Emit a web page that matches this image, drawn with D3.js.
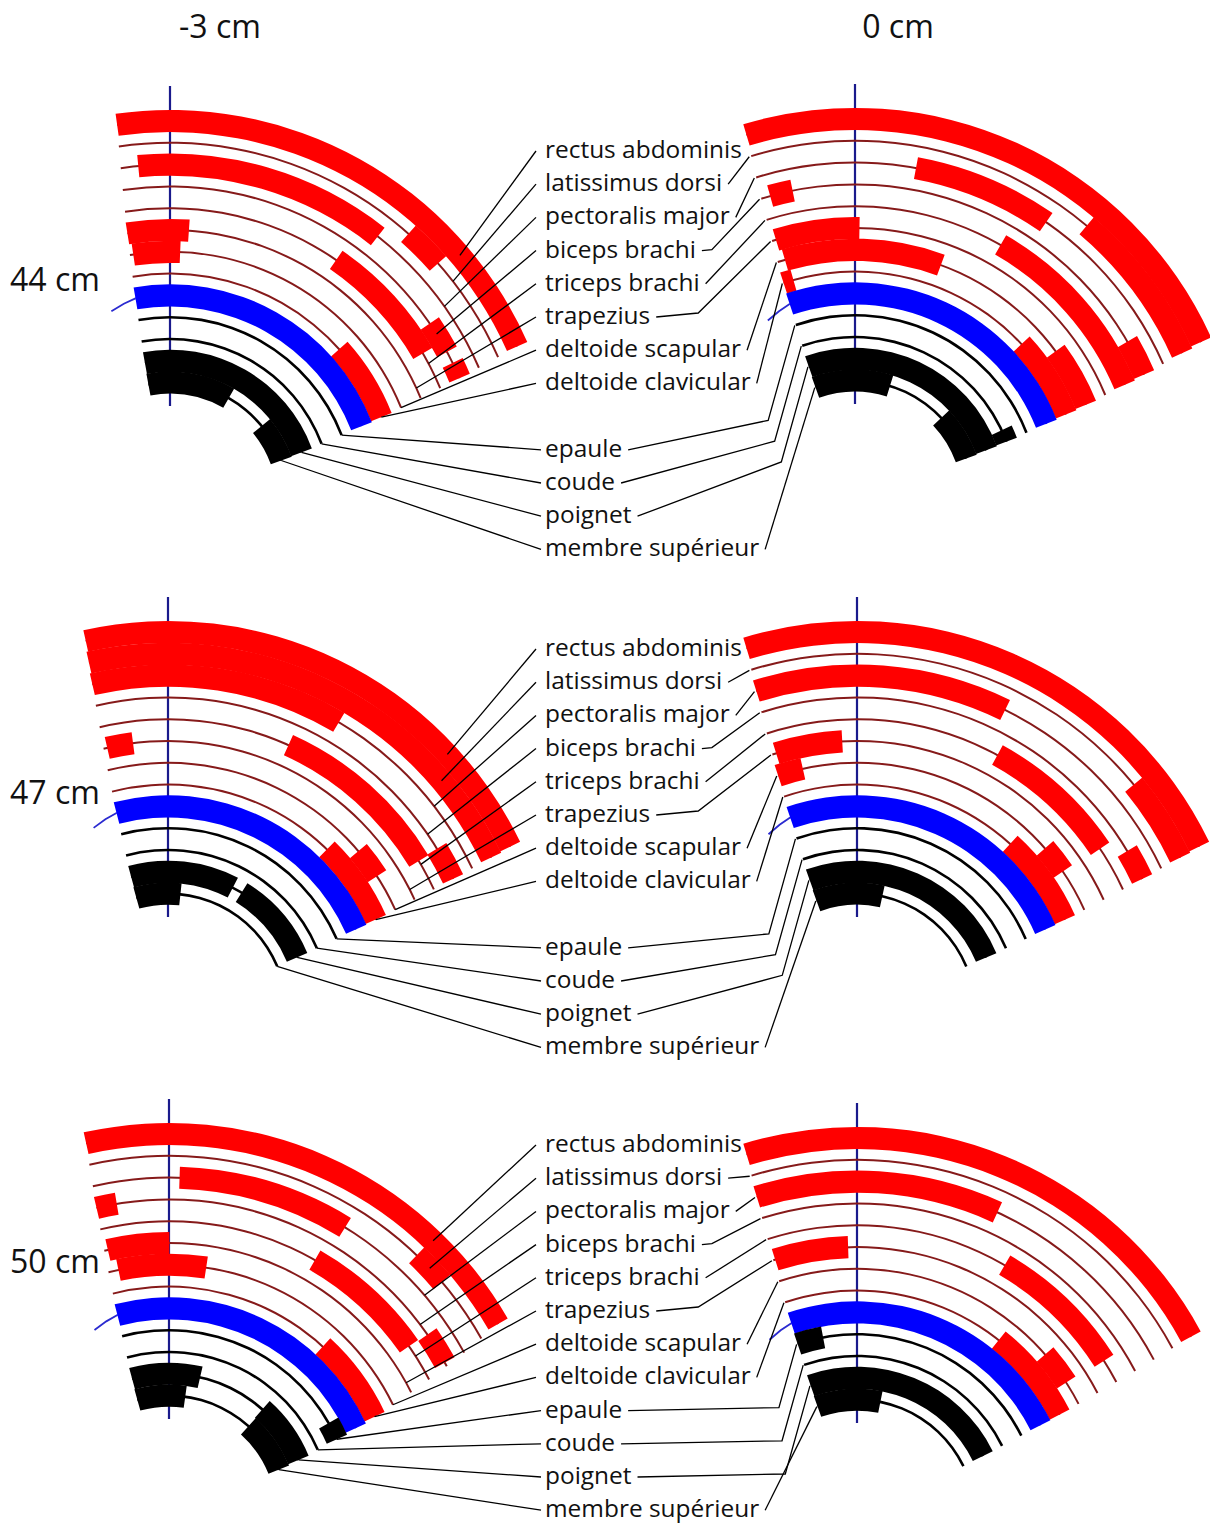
<!DOCTYPE html>
<html><head><meta charset="utf-8">
<script src="https://cdn.jsdelivr.net/npm/d3@7/dist/d3.min.js"></script>
<style>html,body{margin:0;padding:0;background:#fff}svg{display:block}</style>
</head><body>
<svg id="chart" width="1210" height="1524"></svg>
<script>
// ---------------- data ----------------
const columnLabels = ["-3 cm", "0 cm"];
const rowLabels = ["44 cm", "47 cm", "50 cm"];
const muscles = ["rectus abdominis","latissimus dorsi","pectoralis major","biceps brachi","triceps brachi","trapezius","deltoide scapular","deltoide clavicular"];
const joints = ["epaule","coude","poignet","membre supérieur"];
// rings from outside to inside: 8 muscles, upper limb (blue), 4 joint rings
const ringKinds = ["muscle","muscle","muscle","muscle","muscle","muscle","muscle","muscle","limb","joint","joint","joint","joint"];

// active periods on each ring, as fraction of the ring sweep (0 = start, 1 = end)
const act_m3_44 = [
  [[0,1]], [[0.67,0.76]], [[0.04,0.62]], [[0.85,0.93],[0.96,1]], [[0.57,0.9]],
  [[0,0.17]], [[0.01,0.15]], [[0.74,1]], [[0,1]], [], [], [[0,1]], [[0,0.5],[0.76,1]]
];
const act_0_44 = [
  [[0,1]], [[0.69,1]], [[0.33,0.62]], [[0.02,0.07],[0.92,1]], [[0.56,1]],
  [[0.01,0.22]], [[0.02,0.445],[0.835,1]], [[0,0.03],[0.756,1]], [[0,1]], [], [[0.95,1]], [[0,1]], [[0,0.41],[0.74,1]]
];
const act_m3_47 = [
  [[0,1]], [[0,1]], [[0,0.56]], [[0.92,1]], [[0.48,0.92]],
  [[0.01,0.08]], [[0.8,0.89]], [[0.73,1]], [[0,1]], [], [], [[0,0.52],[0.57,1]], [[0,0.26]]
];
const act_0_47 = [
  [[0,1]], [[0.83,1]], [[0,0.53]], [[0.93,1]], [[0.56,0.89]],
  [[0.01,0.18]], [[0,0.07],[0.8,0.88]], [[0.72,1]], [[0,1]], [], [], [[0,1]], [[0,0.37]]
];
const act_m3_50 = [
  [[0,1]], [[0.77,0.85]], [[0.2,0.6]], [[0,0.05],[0.91,0.99]], [[0.57,0.9]],
  [[0.01,0.18]], [[0.03,0.29]], [[0.72,1]], [[0,1]], [[0.93,1]], [], [[0,0.34],[0.69,1]], [[0,0.28],[0.69,1]]
];
const act_0_50 = [
  [[0,1]], [], [[0,0.53]], [], [[0.6,0.94]],
  [[0.005,0.2]], [[0.83,0.93]], [[0.7,1]], [[0,1]], [[0,0.1]], [], [[0,1]], [[0,0.37]]
];

// ---------------- layout ----------------
const FONT = "'Open Sans','Noto Sans','DejaVu Sans',sans-serif";
const R0 = 380, STEP = 21.8, NR = ringKinds.length;
const panels = [
  {col:0,row:0,cx:170,topY:121,sO:-8,  sI:-10.5,eO:66,  eI:70,  act:act_m3_44},
  {col:1,row:0,cx:855,topY:119,sO:-16.6,sI:-19.5,eO:65.6,eI:70,  act:act_0_44},
  {col:0,row:1,cx:168,topY:632,sO:-12.5,sI:-15.5,eO:64.2,eI:67.3,act:act_m3_47},
  {col:1,row:1,cx:857,topY:632,sO:-16.9,sI:-20,  eO:64.2,eI:67.4,act:act_0_47},
  {col:0,row:2,cx:169,topY:1134,sO:-12.6,sI:-15.5,eO:60,eI:68,  act:act_m3_50},
  {col:1,row:2,cx:857,topY:1138,sO:-16.9,sI:-19.5,eO:61.5,eI:64,act:act_0_50}
];
const rScale = d3.scaleLinear().domain([0, NR-1]).range([R0, R0 - STEP*(NR-1)]);
const rad = d => d*Math.PI/180;
function angleScale(p, i){
  const t = i/(NR-1);
  const s = p.sO + (p.sI-p.sO)*t, e = p.eO + (p.eI-p.eO)*t;
  return d3.scaleLinear().domain([0,1]).range([rad(s), rad(e)]);
}
function ringPoint(p, i, f, dr){
  const a = angleScale(p,i)(f), r = rScale(i) + (dr||0), cy = p.topY + R0;
  return [p.cx + r*Math.sin(a), cy - r*Math.cos(a)];
}
const barColor = {muscle:"#ff0000", limb:"#0000ff", joint:"#000000"};
const lineColor = {muscle:"#861a1a", limb:"#0000ff", joint:"#000000"};
const lineHalf = {muscle:1.0, limb:1.0, joint:1.3};
const BAR_HALF = 11.1;

const svg = d3.select("#chart");
const arc = d3.arc();

panels.forEach(p => {
  const cy = p.topY + R0;
  const g = svg.append("g").attr("transform", `translate(${p.cx},${cy})`);
  g.append("line").attr("x1",0).attr("x2",0).attr("y1",-R0-35).attr("y2",-R0+285)
    .attr("stroke","#1a1a8c").attr("stroke-width",2.2);
  // thin ring lines
  ringKinds.forEach((k,i) => {
    const r = rScale(i), a = angleScale(p,i);
    g.append("path").attr("d", arc({innerRadius:r-lineHalf[k], outerRadius:r+lineHalf[k], startAngle:a(0), endAngle:a(1)}))
      .attr("fill", lineColor[k]);
  });
  // blue tail
  {
    const i = 8, r = rScale(i), a = angleScale(p,i);
    const pts = [[r*Math.sin(a(0)), -r*Math.cos(a(0))],
                 [(r-3)*Math.sin(a(0)-rad(3.5)), -(r-3)*Math.cos(a(0)-rad(3.5))],
                 [(r-7)*Math.sin(a(0)-rad(7.5)), -(r-7)*Math.cos(a(0)-rad(7.5))]];
    g.append("path").attr("d", d3.line()(pts)).attr("fill","none").attr("stroke","#2a2ad0").attr("stroke-width",1.8);
  }
  // active bars
  p.act.forEach((segs,i) => {
    const r = rScale(i), a = angleScale(p,i), k = ringKinds[i];
    segs.forEach(s => {
      g.append("path").attr("d", arc({innerRadius:r-BAR_HALF, outerRadius:r+BAR_HALF, startAngle:a(s[0]), endAngle:a(s[1])}))
        .attr("fill", barColor[k]);
    });
  });
});

// ---------------- text ----------------
function fitSize(txt, width){
  const t = svg.append("text").attr("font-family",FONT).attr("font-size",100).text(txt);
  const w = t.node().getComputedTextLength(); t.remove();
  return 100*width/w;
}
const labelSize = fitSize("rectus abdominis", 197);
const headSize = fitSize("44 cm", 90);

const colX = [220, 898];
columnLabels.forEach((c,j) => svg.append("text").attr("x",colX[j]).attr("y",38).attr("text-anchor","middle")
  .attr("font-family",FONT).attr("font-size",headSize).attr("fill","#111").text(c));
const rowBaseY = [291, 804, 1273];
rowLabels.forEach((c,j) => svg.append("text").attr("x",10).attr("y",rowBaseY[j])
  .attr("font-family",FONT).attr("font-size",headSize).attr("fill","#111").text(c));

const labels = muscles.concat(joints);
const firstBase = [158, 656, 1152];
const jointGap = [1, 1, 0];
const LABEL_X = 545, LINE = 33.2;
const leftFrac = [0.78,0.81,0.84,0.88,0.93,0.97,1,1,1,1,1,1];
const leftRing = [0,1,2,3,4,5,6,7,9,10,11,12];
const lineGen = d3.line();

[0,1,2].forEach(row => {
  const L = panels.find(p => p.row===row && p.col===0);
  const Rp = panels.find(p => p.row===row && p.col===1);
  labels.forEach((lab, i) => {
    const base = firstBase[row] + LINE*(i + (i>=8 ? jointGap[row] : 0));
    const t = svg.append("text").attr("x",LABEL_X).attr("y",base)
      .attr("font-family",FONT).attr("font-size",labelSize).attr("fill","#111").text(lab);
    const tw = t.node().getComputedTextLength();
    const ri = leftRing[i];
    // left leader
    const lp = ringPoint(L, ri, leftFrac[i]);
    const le = [LABEL_X - (i<8 ? 9 : 4), base - 7];
    svg.append("path").attr("d", lineGen([lp, le])).attr("fill","none").attr("stroke","#000").attr("stroke-width",1.3);
    // right leader
    if (i === 0) return;
    const tp = ringPoint(Rp, ri, -0.004);
    const st = [LABEL_X + tw + 6, base - 7];
    let pts;
    if (i === 3) pts = [st, [st[0]+10, st[1]-1], tp];
    else if (i === 5) pts = [st, [st[0]+42, st[1]-4], tp];
    else if (i >= 8 && i <= 10) {
      const ey = Math.min(st[1]-3, tp[1]+95);
      pts = [st, [tp[0] - 0.28*(ey-tp[1]), ey], tp];
    } else pts = [st, tp];
    svg.append("path").attr("d", lineGen(pts)).attr("fill","none").attr("stroke","#000").attr("stroke-width",1.3);
  });
});
</script>
</body></html>
